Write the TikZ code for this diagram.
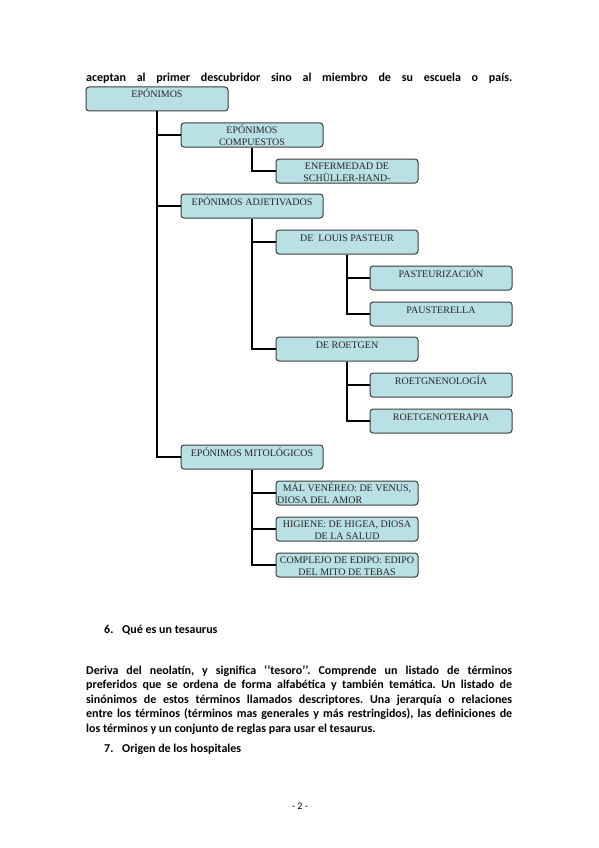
\documentclass[tikz,border=0pt]{standalone}
\usepackage{fontspec}
\setmainfont{Liberation Serif}
\newfontfamily\bodyfont{Carlito}
\definecolor{boxfill}{RGB}{185,224,228}
\definecolor{boxline}{RGB}{60,60,60}
\newcommand\jline[1]{\hbox to 426pt{#1}}
\frenchspacing
\begin{document}
\begin{tikzpicture}[x=1pt,y=-1pt,
  box/.style={draw=boxline, line width=1pt, fill=boxfill, rounded corners=3pt,
              minimum width=142pt, minimum height=24pt, inner sep=0pt},
  lbl/.style={font=\fontsize{10}{12}\selectfont, text=black!85, inner sep=0pt, anchor=base},
  lblw/.style={lbl, anchor=base west},
  conn/.style={line width=2pt, black},
  body/.style={font=\bodyfont\bfseries\fontsize{12}{14.4}\selectfont\frenchspacing, inner sep=0pt, anchor=base west},
  pnum/.style={font=\bodyfont\fontsize{10}{12}\selectfont, inner sep=0pt, anchor=base}]
\useasboundingbox (0,0) rectangle (599,848);

% top text line
\node[body] (top) at (86,81.5) {\jline{aceptan al primer descubridor sino al miembro de su escuela o país.}};

% boxes
\node[box] (ep)   at (157,99)  {};
\node[box] (comp) at (252,135) {};
\node[box] (enf)  at (347,171) {};
\node[box] (adj)  at (252,206) {};
\node[box] (lp)   at (347,242) {};
\node[box] (pz)   at (441,278) {};
\node[box] (pa)   at (441,314) {};
\node[box] (ro)   at (347,349) {};
\node[box] (rl)   at (441,385) {};
\node[box] (rt)   at (441,421) {};
\node[box] (mit)  at (252,457) {};
\node[box] (mv)   at (347,493) {};
\node[box] (hi)   at (347,529) {};
\node[box] (ce)   at (347,565) {};

% connectors
\draw[conn] (ep.south) |- (comp.west);
\draw[conn] (ep.south) |- (adj.west);
\draw[conn] (ep.south) |- (mit.west);
\draw[conn] (comp.south) |- (enf.west);
\draw[conn] (adj.south) |- (lp.west);
\draw[conn] (adj.south) |- (ro.west);
\draw[conn] (lp.south) |- (pz.west);
\draw[conn] (lp.south) |- (pa.west);
\draw[conn] (ro.south) |- (rl.west);
\draw[conn] (ro.south) |- (rt.west);
\draw[conn] (mit.south) |- (mv.west);
\draw[conn] (mit.south) |- (hi.west);
\draw[conn] (mit.south) |- (ce.west);

% box labels
\node[lbl] (tep)   at (157,98)    {EPÓNIMOS};
\node[lbl] (tcomp1) at (252,133.3) {EPÓNIMOS};
\node[lbl] (tcomp2) at (252,145.6) {COMPUESTOS};
\node[lbl] (tenf1) at (347,169.3) {ENFERMEDAD DE};
\node[lbl] (tenf2) at (347,181.6) {SCHÜLLER-HAND-};
\node[lbl] (tadj)  at (252,205)   {EPÓNIMOS ADJETIVADOS};
\node[lbl] (tlp)   at (347,241)   {DE\ \ LOUIS PASTEUR};
\node[lbl] (tpz)   at (441,277)   {PASTEURIZACIÓN};
\node[lbl] (tpa)   at (441,313)   {PAUSTERELLA};
\node[lbl] (tro)   at (347,348)   {DE ROETGEN};
\node[lbl] (trl)   at (441,384.5) {ROETGNENOLOGÍA};
\node[lbl] (trt)   at (441,420)   {ROETGENOTERAPIA};
\node[lbl] (tmit)  at (252,456)   {EPÓNIMOS MITOLÓGICOS};
\node[lbl] (tmv1)  at (347,491.3) {MÁL VENÉREO: DE VENUS,};
\node[lblw] (tmv2) at (277,503.6) {DIOSA DEL AMOR};
\node[lbl] (thi1)  at (347,527.3) {HIGIENE: DE HIGEA, DIOSA};
\node[lbl] (thi2)  at (347,539.6) {DE LA SALUD};
\node[lbl] (tce1)  at (347,563.3) {COMPLEJO DE EDIPO: EDIPO};
\node[lbl] (tce2)  at (347,575.6) {DEL MITO DE TEBAS};

% lower text
\node[body] (h6n) at (104,633.5) {6.};
\node[body] (h6)  at (122,633.5) {Qué es un tesaurus};
\node[body] (p1) at (86,674.3) {\jline{Deriva del neolatín, y significa ‘‘tesoro’’. Comprende un listado de términos}};
\node[body] (p2) at (86,688.8) {\jline{preferidos que se ordena de forma alfabética y también temática. Un listado de}};
\node[body] (p3) at (86,703.2) {\jline{sinónimos de estos términos llamados descriptores. Una jerarquía o relaciones}};
\node[body] (p4) at (86,717.6) {\jline{entre los términos (términos mas generales y más restringidos), las definiciones de}};
\node[body] (p5) at (86,732)   {los términos y un conjunto de reglas para usar el tesaurus.};
\node[body] (h7n) at (104,752) {7.};
\node[body] (h7)  at (122,752) {Origen de los hospitales};
\node[pnum] (pg) at (300,809) {- 2 -};
\end{tikzpicture}
\end{document}
